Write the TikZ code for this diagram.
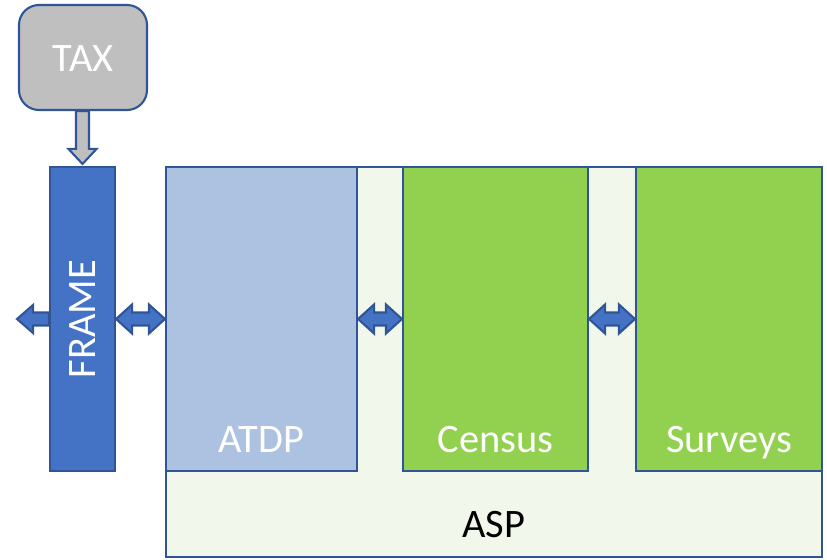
\documentclass[tikz,border=0pt]{standalone}
\usepackage{fontspec}
\setmainfont{Carlito}
\usetikzlibrary{calc}
\definecolor{edgeblue}{RGB}{47,85,151}
\definecolor{frameblue}{RGB}{68,114,196}
\definecolor{atdpblue}{RGB}{173,193,225}
\definecolor{aspgreen}{RGB}{242,247,236}
\definecolor{boxgreen}{RGB}{146,208,80}
\definecolor{taxgray}{RGB}{191,191,191}
\newcommand{\dblarrow}[2]{%
  \draw[blockarrow] let \p1=(#1), \p2=(#2) in
    (\x1,\y1) -- (\x1+0.32cm,\y1+0.29cm) -- (\x1+0.32cm,\y1+0.13cm)
    -- (\x2-0.32cm,\y1+0.13cm) -- (\x2-0.32cm,\y1+0.29cm) -- (\x2,\y1)
    -- (\x2-0.32cm,\y1-0.29cm) -- (\x2-0.32cm,\y1-0.13cm)
    -- (\x1+0.32cm,\y1-0.13cm) -- (\x1+0.32cm,\y1-0.29cm) -- cycle;}

\begin{document}
\begin{tikzpicture}[
    txt/.style={font=\fontsize{23}{27}\selectfont},
    panel/.style={draw=edgeblue, line width=1.2pt, minimum height=6.08cm, inner sep=0pt},
    blockarrow/.style={draw=edgeblue, fill=frameblue, line width=1.2pt, line join=miter}]
    \useasboundingbox (0,0) rectangle (16.54,11.2);
    \node[draw=edgeblue, line width=1.2pt, fill=taxgray, rounded corners=0.4cm,
          minimum width=2.56cm, minimum height=2.1cm, txt, text=white] (tax) at (1.66,10.05) {};
    \node[txt, text=white, anchor=base] (taxlabel) at ([yshift=-0.28cm]tax.center) {TAX};
    \node[draw=edgeblue, line width=1.2pt, fill=aspgreen, minimum width=13.12cm,
          minimum height=7.8cm, inner sep=0pt] (asp) at (9.88,3.96) {};
    \node[txt, text=black, anchor=base] (asplabel) at ([yshift=0.42cm]asp.south) {ASP};
    \node[panel, fill=frameblue, minimum width=1.3cm] (frame) at (1.65,4.82) {};
    \node[txt, text=white, rotate=90] (framelabel) at (frame.center) {FRAME};
    \node[panel, fill=atdpblue, minimum width=3.82cm] (atdp) at (5.23,4.82) {};
    \node[panel, fill=boxgreen, minimum width=3.7cm] (census) at (9.91,4.82) {};
    \node[panel, fill=boxgreen, minimum width=3.72cm] (surveys) at (14.58,4.82) {};
    \node[txt, text=white, anchor=base] (atdplabel) at ([yshift=0.4cm]atdp.south) {ATDP};
    \node[txt, text=white, anchor=base] (censuslabel) at ([yshift=0.4cm]census.south) {Census};
    \node[txt, text=white, anchor=base] (surveyslabel) at ([yshift=0.4cm]surveys.south) {Surveys};
    \coordinate (out) at (0.34,4.82);
    \draw[blockarrow, fill=taxgray] let \p1=(tax.south), \p2=(frame.north) in
        (\x2-0.13cm,\y1) -- (\x2-0.13cm,\y2+0.34cm) -- (\x2-0.28cm,\y2+0.34cm) -- (\x2,\y2+0.04cm)
        -- (\x2+0.28cm,\y2+0.34cm) -- (\x2+0.13cm,\y2+0.34cm) -- (\x2+0.13cm,\y1) -- cycle;
    \draw[blockarrow] let \p1=(out), \p2=(frame.west) in
        (\x1,\y1) -- (\x1+0.32cm,\y1+0.28cm) -- (\x1+0.32cm,\y1+0.13cm) -- (\x2,\y1+0.13cm)
        -- (\x2,\y1-0.13cm) -- (\x1+0.32cm,\y1-0.13cm) -- (\x1+0.32cm,\y1-0.28cm) -- cycle;
    \dblarrow{frame.east}{atdp.west}
    \dblarrow{atdp.east}{census.west}
    \dblarrow{census.east}{surveys.west}
\end{tikzpicture}
\end{document}
